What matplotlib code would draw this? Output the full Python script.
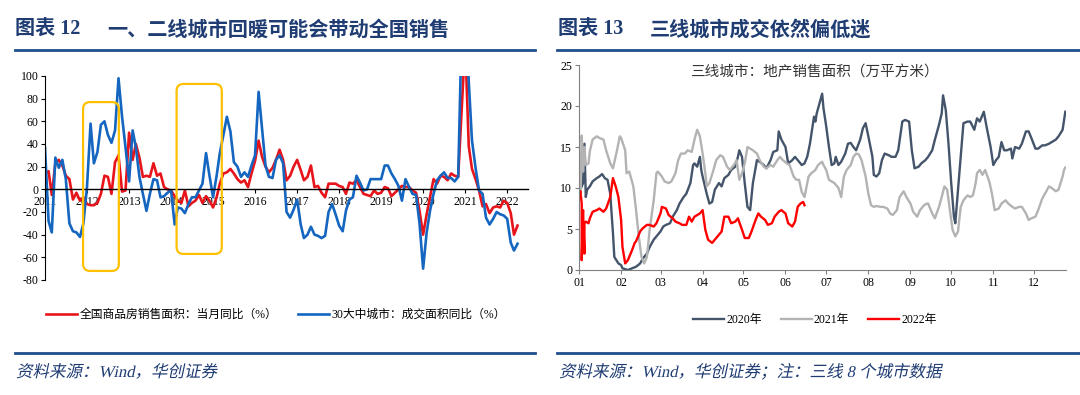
import numpy as np
import pandas as pd
import matplotlib
matplotlib.use("Agg")
import matplotlib.pyplot as plt
from matplotlib.lines import Line2D
from matplotlib.patches import FancyBboxPatch, PathPatch
from matplotlib.textpath import TextPath
from matplotlib.font_manager import FontProperties
from matplotlib.transforms import Affine2D, IdentityTransform

plt.rcParams['font.family'] = ['Liberation Serif', 'Noto Sans CJK SC', 'DejaVu Sans']
plt.rcParams['axes.unicode_minus'] = False

# ---- left chart data: monthly yoy, Jan 2011 - Apr 2022
months = pd.date_range('2011-01-01', periods=136, freq='MS')
national_yoy = [14, 16, -5, 23, 26, 21, 12, 9, -9, -3, -10, -7,
                -13, -14, -14, -12, -4, 12, 11, -4, 24, 30, -2, -1,
                50, 26, 40, 28, 11, 12, 11, 23, 12, 14, 2, 0,
                -1, -6, -10, -12, -1, -15, -12, -10, -5, -12, -6, -10,
                -16, -7, 5, 14, 15, 18, 14, 9, 6, 8, 2, 14,
                25, 43, 29, 20, 15, 19, 26, 35, 26, 8, 12, 20,
                26, 17, 8, 11, 21, 2, 3, -3, -7, 5, 5, 5,
                3, 2, -4, 6, 5, 8, 2, -4, -5, -6, -1, -4,
                -3, 2, 1, -6, -3, 0, 3, 2, 2, -1, -3, -19,
                -40, -22, -7, 9, 5, 12, 11, 8, 14, 12, 11, 70,
                130, 38, 18, 9, -1, -15, -13, -21, -16, -15, -16, -10,
                -12, -21, -40, -32]
city30_yoy = [37, -28, -38, 28, 19, 26, 9, -30, -37, -38, -42, -30,
              2, 58, 23, 33, 57, 60, 48, 41, 52, 98, 64, 37,
              7, 52, 37, 11, -4, -19, -4, 9, 8, -7, -6, -3,
              -1, -31, -16, -17, -21, -13, -7, -7, -1, 5, 32, 12,
              -7, 12, 32, 48, 64, 51, 24, 20, 11, 15, 11, 21,
              30, 86, 55, 21, 11, 10, 26, 30, 23, -20, -25, -18,
              -9, -31, -43, -40, -33, -40, -41, -43, -41, -20, -13, -22,
              -32, -37, -19, -9, -7, 12, 6, -1, 0, 9, 9, 9,
              9, 21, 21, 14, 9, 3, -10, 9, 2, -4, -5, -30,
              -70, -38, -19, -4, 8, 12, 15, 10, 10, 7, 11, 140,
              160, 95, 43, 19, -1, -4, -25, -31, -26, -20, -22, -23,
              -26, -47, -54, -48]
years = list(range(2011, 2023))

# ---- right chart data: third-tier city sales area (10k sqm), by day of year
day_2020 = [0, 2, 3, 4, 5, 6, 8, 10, 13, 15, 17, 19, 21, 23, 25, 26, 29, 31, 32, 36,
            39, 42, 45, 47, 50, 52, 55, 57, 60, 62, 64, 67, 69, 72, 74, 77, 79, 82, 84, 85,
            87, 89, 90, 91, 94, 96, 98, 100, 103, 105, 107, 110, 112, 115, 117, 118, 120, 122, 124, 126,
            128, 131, 133, 136, 138, 141, 143, 146, 147, 149, 152, 154, 157, 159, 161, 164, 166, 168, 170, 173,
            174, 175, 177, 179, 180, 182, 184, 186, 188, 189, 191, 193, 196, 198, 200, 202, 204, 207, 209, 211,
            213, 216, 217, 219, 221, 223, 225, 228, 230, 233, 235, 238, 240, 243, 245, 247, 250, 252, 255, 257,
            260, 262, 265, 267, 268, 270, 272, 274, 276, 277, 279, 281, 283, 286, 288, 291, 293, 295, 298, 300,
            303, 305, 307, 309, 311, 313, 315, 318, 319, 321, 324, 326, 329, 331, 333, 336, 338, 341, 343, 346,
            348, 351, 353, 356, 358]
val_2020 = [9.5, 10.2, 10.6, 15.4, 8.9, 9.8, 10.2, 10.8, 11.2, 11.4, 11.7, 11.2, 11.0, 9.3, 4.5, 1.6, 0.8, 0.6, 0.2, 0.0,
            0.2, 0.4, 0.8, 1.4, 2.0, 2.8, 3.7, 4.1, 4.7, 5.3, 5.5, 5.7, 6.5, 7.3, 8.1, 8.9, 9.3, 10.6, 12.8, 13.0,
            12.6, 13.8, 12.2, 11.4, 9.3, 8.1, 8.3, 9.8, 10.6, 10.2, 11.2, 11.6, 12.2, 12.6, 13.8, 14.6, 13.8, 10.6, 7.7, 7.3,
            10.6, 13.4, 13.2, 12.8, 12.4, 13.4, 14.4, 14.6, 16.9, 15.9, 15.0, 13.0, 13.4, 13.8, 13.4, 12.8, 13.0, 13.8, 15.4, 18.7,
            18.1, 19.1, 20.3, 21.5, 19.7, 17.5, 15.0, 12.8, 13.0, 13.8, 12.8, 13.2, 14.2, 15.4, 15.5, 15.0, 14.6, 15.9, 17.3, 17.9,
            16.3, 13.8, 11.6, 11.4, 11.8, 13.4, 14.2, 14.0, 13.8, 13.8, 14.6, 18.1, 18.3, 18.1, 14.6, 12.4, 12.6, 13.0, 13.4, 13.8,
            14.6, 15.9, 17.7, 19.1, 21.3, 19.5, 15.4, 10.6, 6.5, 5.7, 9.8, 13.8, 17.9, 18.1, 18.1, 17.1, 18.5, 18.1, 19.3, 17.5,
            15.0, 12.8, 13.4, 13.8, 15.6, 14.6, 14.6, 14.8, 13.6, 15.0, 14.8, 15.4, 16.9, 16.9, 16.1, 14.8, 14.8, 15.2, 15.2, 15.4,
            15.6, 15.9, 16.3, 17.1, 19.3]
day_2021 = [0, 1, 2, 3, 4, 5, 7, 8, 10, 13, 15, 18, 20, 23, 25, 28, 30, 31, 34, 35,
            37, 40, 42, 44, 46, 48, 50, 52, 55, 57, 58, 61, 63, 66, 68, 71, 73, 75, 78, 80,
            83, 85, 87, 89, 91, 93, 94, 96, 99, 101, 104, 106, 109, 111, 114, 116, 118, 120, 122, 124,
            126, 128, 131, 133, 136, 138, 141, 143, 146, 148, 150, 153, 155, 158, 160, 162, 164, 166, 169, 171,
            174, 176, 179, 180, 182, 184, 186, 188, 191, 193, 195, 197, 200, 202, 204, 206, 208, 211, 213, 215,
            217, 219, 222, 224, 227, 229, 231, 234, 236, 239, 241, 244, 246, 249, 251, 254, 256, 257, 260, 262,
            265, 267, 269, 271, 273, 275, 277, 279, 281, 283, 286, 288, 290, 292, 293, 295, 297, 299, 302, 304,
            306, 309, 311, 314, 316, 319, 321, 324, 326, 329, 331, 333, 336, 338, 341, 343, 346, 348, 351, 353,
            356, 357, 358]
val_2021 = [14.0, 9.5, 16.4, 12.0, 15.0, 12.8, 13.0, 14.5, 15.9, 16.3, 16.1, 15.9, 14.6, 13.0, 12.4, 14.6, 16.3, 16.1, 14.6, 11.8,
            12.0, 10.2, 7.3, 4.1, 1.6, 0.8, 1.6, 4.9, 8.5, 11.8, 12.0, 11.4, 10.8, 10.6, 10.8, 11.8, 13.4, 14.2, 14.2, 14.6,
            14.4, 15.9, 17.1, 16.3, 14.2, 11.8, 10.2, 10.6, 12.2, 13.4, 14.0, 13.8, 12.6, 12.2, 12.8, 13.4, 11.0, 11.8, 13.0, 15.0,
            14.8, 14.6, 14.2, 13.4, 12.6, 12.4, 12.8, 12.6, 13.4, 13.8, 13.4, 13.0, 12.8, 11.4, 11.0, 11.0, 9.5, 8.9, 11.4, 11.8,
            12.2, 12.8, 13.2, 12.8, 12.2, 11.0, 10.8, 10.6, 10.0, 8.9, 11.4, 12.2, 12.8, 13.8, 14.2, 14.1, 13.4, 11.4, 9.3, 7.9,
            7.7, 7.8, 7.7, 7.7, 7.5, 6.9, 6.7, 7.3, 8.9, 9.6, 8.9, 8.1, 7.1, 6.5, 7.3, 7.9, 8.1, 8.1, 6.9, 6.3,
            7.7, 8.9, 10.2, 9.8, 7.3, 4.9, 4.1, 4.7, 7.7, 8.5, 9.1, 8.9, 9.1, 10.6, 11.8, 12.2, 11.6, 12.2, 10.8, 9.3,
            7.3, 7.5, 8.1, 8.5, 8.1, 7.7, 7.5, 7.7, 7.7, 6.9, 6.1, 6.3, 6.5, 7.3, 8.7, 9.3, 10.2, 10.0, 9.6, 9.8,
            11.4, 12.2, 12.5]
day_2022 = [0, 1, 2, 2, 3, 3, 4, 4, 5, 7, 8, 10, 13, 15, 18, 20, 23, 25, 27, 29,
            31, 32, 34, 36, 39, 41, 42, 45, 47, 50, 52, 55, 57, 60, 61, 64, 66, 69, 71, 74,
            76, 79, 81, 83, 85, 87, 89, 91, 93, 95, 98, 100, 103, 105, 107, 110, 112, 115, 117, 120,
            122, 125, 127, 130, 132, 134, 137, 139, 142, 144, 147, 149, 152, 154, 157, 159, 161, 163, 165, 166]
val_2022 = [8.9, 9.6, 8.1, 1.2, 7.3, 6.9, 2.0, 5.7, 5.9, 5.7, 6.3, 7.1, 7.3, 7.5, 7.1, 7.5, 8.9, 11.2, 10.2, 8.9,
            6.1, 2.8, 0.8, 1.2, 2.4, 3.3, 3.5, 4.7, 5.1, 5.5, 5.5, 5.3, 5.7, 6.9, 7.7, 7.5, 6.7, 6.3, 5.9, 5.7,
            5.5, 5.5, 6.5, 5.9, 6.5, 6.7, 6.9, 7.3, 4.9, 3.7, 3.3, 3.7, 4.3, 4.7, 6.5, 6.5, 5.7, 5.9, 6.3, 4.9,
            3.9, 3.9, 4.7, 6.1, 6.9, 6.5, 6.1, 5.5, 5.7, 6.5, 7.1, 7.3, 6.9, 5.7, 5.3, 5.9, 7.7, 8.1, 8.3, 7.9]
month_starts = [0, 31, 60, 91, 121, 152, 182, 213, 244, 274, 305, 335]
month_labels = ['01', '02', '03', '04', '05', '06', '07', '08', '09', '10', '11', '12']

title_color = '#1F3C73'
rule_color = '#1F4E8C'
cjk = ['Noto Sans CJK SC', 'DejaVu Sans']
mixed = ['Liberation Serif', 'Noto Sans CJK SC', 'DejaVu Sans']

fig = plt.figure(figsize=(10.8, 3.95), dpi=100)
W, H = 1080.0, 395.0


def slanted_text(x_px, y_px, s, size_px):
    # source lines are set in a slanted face; shear the glyph outlines
    tp = TextPath((0, 0), s, size=size_px, prop=FontProperties(family=mixed))
    tr = Affine2D().skew_deg(12, 0).translate(x_px, H - y_px)
    fig.add_artist(PathPatch(tr.transform_path(tp), fc=title_color, lw=0,
                             transform=IdentityTransform()))


# headers and rules
fig.text(15 / W, 1 - 29 / H, '图表 12', color=title_color, fontsize=14.5, fontweight='bold', family=mixed, va='center')
fig.text(107 / W, 1 - 29 / H, '一、二线城市回暖可能会带动全国销售', color=title_color, fontsize=14.5,
         fontweight='bold', family=cjk, va='center')
fig.text(558 / W, 1 - 29 / H, '图表 13', color=title_color, fontsize=14.5, fontweight='bold', family=mixed, va='center')
fig.text(650 / W, 1 - 29 / H, '三线城市成交依然偏低迷', color=title_color, fontsize=14.5,
         fontweight='bold', family=cjk, va='center')
for x0, x1 in [(15, 535), (557, 1080)]:
    fig.add_artist(Line2D([x0 / W, x1 / W], [1 - 50 / H] * 2, color=rule_color, lw=2))
    fig.add_artist(Line2D([x0 / W, x1 / W], [1 - 353 / H] * 2, color=rule_color, lw=2))
slanted_text(16, 377, '资料来源：Wind，华创证券', 16.5)
slanted_text(559, 377, '资料来源：Wind，华创证券；注：三线 8 个城市数据', 16.5)

# ---- left chart
ax1 = fig.add_axes([45 / W, 1 - 280 / H, (528 - 45) / W, (280 - 76) / H])
ax1.plot(months, national_yoy, color='#E8141B', lw=1.9, label='全国商品房销售面积：当月同比（%）')
ax1.plot(months, city30_yoy, color='#1566C0', lw=1.9, label='30大中城市：成交面积同比（%）')
ax1.set_ylim(-80, 100)
ax1.set_xlim(pd.Timestamp('2011-01-01'), pd.Timestamp('2022-07-01'))
ax1.set_yticks(range(-80, 101, 20))
ax1.set_xticks([pd.Timestamp(f'{y}-01-01') for y in years])
ax1.set_xticklabels([str(y) for y in years])
for s in ['top', 'right']:
    ax1.spines[s].set_visible(False)
ax1.spines['bottom'].set_position(('data', 0))
ax1.spines['bottom'].set_linewidth(1.0)
ax1.spines['left'].set_linewidth(0.8)
ax1.tick_params(axis='both', labelsize=8.5, length=3, width=0.8, pad=1.5)
ax1.patch.set_alpha(0)

# highlight boxes
p0 = ax1.transData.transform((0, 0))
py = ax1.transData.transform((0, 1))[1] - p0[1]
for (m0, m1, ylo, yhi) in [(10.9, 21.1, -72, 77), (37.6, 50.5, -57, 93)]:
    x0 = months[0] + pd.DateOffset(days=int(m0 * 30.44))
    x1 = months[0] + pd.DateOffset(days=int(m1 * 30.44))
    xn0 = matplotlib.dates.date2num(x0)
    xn1 = matplotlib.dates.date2num(x1)
    px_day = (ax1.transData.transform((xn0 + 1, 0))[0] - ax1.transData.transform((xn0, 0))[0])
    box = FancyBboxPatch((xn0, ylo), xn1 - xn0, yhi - ylo,
                         boxstyle='round,pad=0,rounding_size=%f' % (7 / px_day),
                         mutation_aspect=px_day / py, fill=False, ec='#FFC000', lw=1.6, zorder=5)
    ax1.add_patch(box)

fig.legend(handles=ax1.get_lines(), loc='center', bbox_to_anchor=(276 / W, 1 - 315 / H), ncol=2,
           frameon=False, prop={'family': mixed, 'size': 8.5}, handlelength=2.6, handletextpad=0.2,
           columnspacing=1.8)

# ---- right chart
ax2 = fig.add_axes([579 / W, 1 - 270 / H, (1066 - 579) / W, (270 - 65) / H])
ax2.plot(day_2020, val_2020, color='#44546A', lw=1.7, label='2020年')
ax2.plot(day_2021, val_2021, color='#B3B3B3', lw=1.7, label='2021年')
ax2.plot(day_2022, val_2022, color='#FF0000', lw=1.7, label='2022年')
ax2.set_ylim(0, 25)
ax2.set_xlim(0, 358.5)
ax2.set_yticks(range(0, 26, 5))
ax2.set_xticks(month_starts)
ax2.set_xticklabels(month_labels)
for s in ['top', 'right']:
    ax2.spines[s].set_visible(False)
ax2.spines['bottom'].set_color('#808080')
ax2.spines['left'].set_color('#808080')
ax2.tick_params(axis='both', labelsize=8.5, length=3, width=0.8, color='#808080', pad=2)
fig.text(690 / W, 1 - 73 / H, '三线城市：地产销售面积（万平方米）', fontsize=10.5, family=cjk,
         color='#333333', va='center')
fig.legend(handles=ax2.get_lines(), loc='center', bbox_to_anchor=(815 / W, 1 - 320 / H), ncol=3,
           frameon=False, prop={'family': mixed, 'size': 8.5}, handlelength=2.6, handletextpad=0.2,
           columnspacing=1.6)

fig.savefig('out.png', dpi=100)
